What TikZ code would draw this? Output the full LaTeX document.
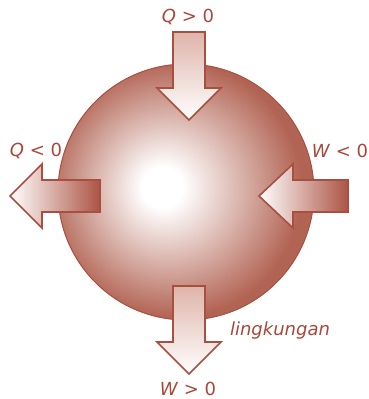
\documentclass[tikz,border=0pt]{standalone}
\usepackage{fontspec}
\setmainfont{DejaVu Sans}
\definecolor{txt}{RGB}{168,72,58}
\definecolor{edge}{RGB}{168,80,64}
\definecolor{ballout}{RGB}{178,100,84}
\definecolor{arrdark}{RGB}{172,84,68}
\definecolor{arrpink}{RGB}{222,180,170}
\pgfdeclareradialshading{ball}{\pgfpoint{-5bp}{1bp}}{color(0bp)=(white); color(4bp)=(white); color(25bp)=(ballout); color(50bp)=(ballout)}
\begin{document}
\begin{tikzpicture}[x=1pt,y=-1pt,
  lbl/.style={text=txt,font=\fontsize{18}{21}\selectfont,inner sep=0pt},
  arr/.style={draw=edge,line width=1.6pt,line join=miter}]
\useasboundingbox (0,0) rectangle (369,399);
% ball
\shade[shading=ball,draw=edge,line width=1pt] (186,192) circle (128);
% top arrow
\shadedraw[arr,top color=arrpink,bottom color=white]
  (173,32) -- (205,32) -- (205,88) -- (221,88) -- (189,120) -- (157,88) -- (173,88) -- cycle;
% bottom arrow
\shadedraw[arr,top color=arrpink,bottom color=white]
  (173,286) -- (205,286) -- (205,342) -- (221,342) -- (189,374) -- (157,342) -- (173,342) -- cycle;
% left arrow
\shadedraw[arr,left color=white,right color=arrdark]
  (100,180) -- (100,212) -- (42,212) -- (42,228) -- (10,196) -- (42,164) -- (42,180) -- cycle;
% right arrow
\shadedraw[arr,left color=white,right color=arrdark]
  (348,180) -- (348,212) -- (293,212) -- (293,228) -- (259,196) -- (293,164) -- (293,180) -- cycle;
% labels
\node[lbl] (qin) at (188,17) {\textit{Q} > 0};
\node[lbl] (qout) at (36,151) {\textit{Q} < 0};
\node[lbl] (win) at (340,151) {\textit{W} < 0};
\node[lbl] (wout) at (188,389) {\textit{W} > 0};
\node[lbl] (env) at (280,331) {\textit{lingkungan}};
\end{tikzpicture}
\end{document}
